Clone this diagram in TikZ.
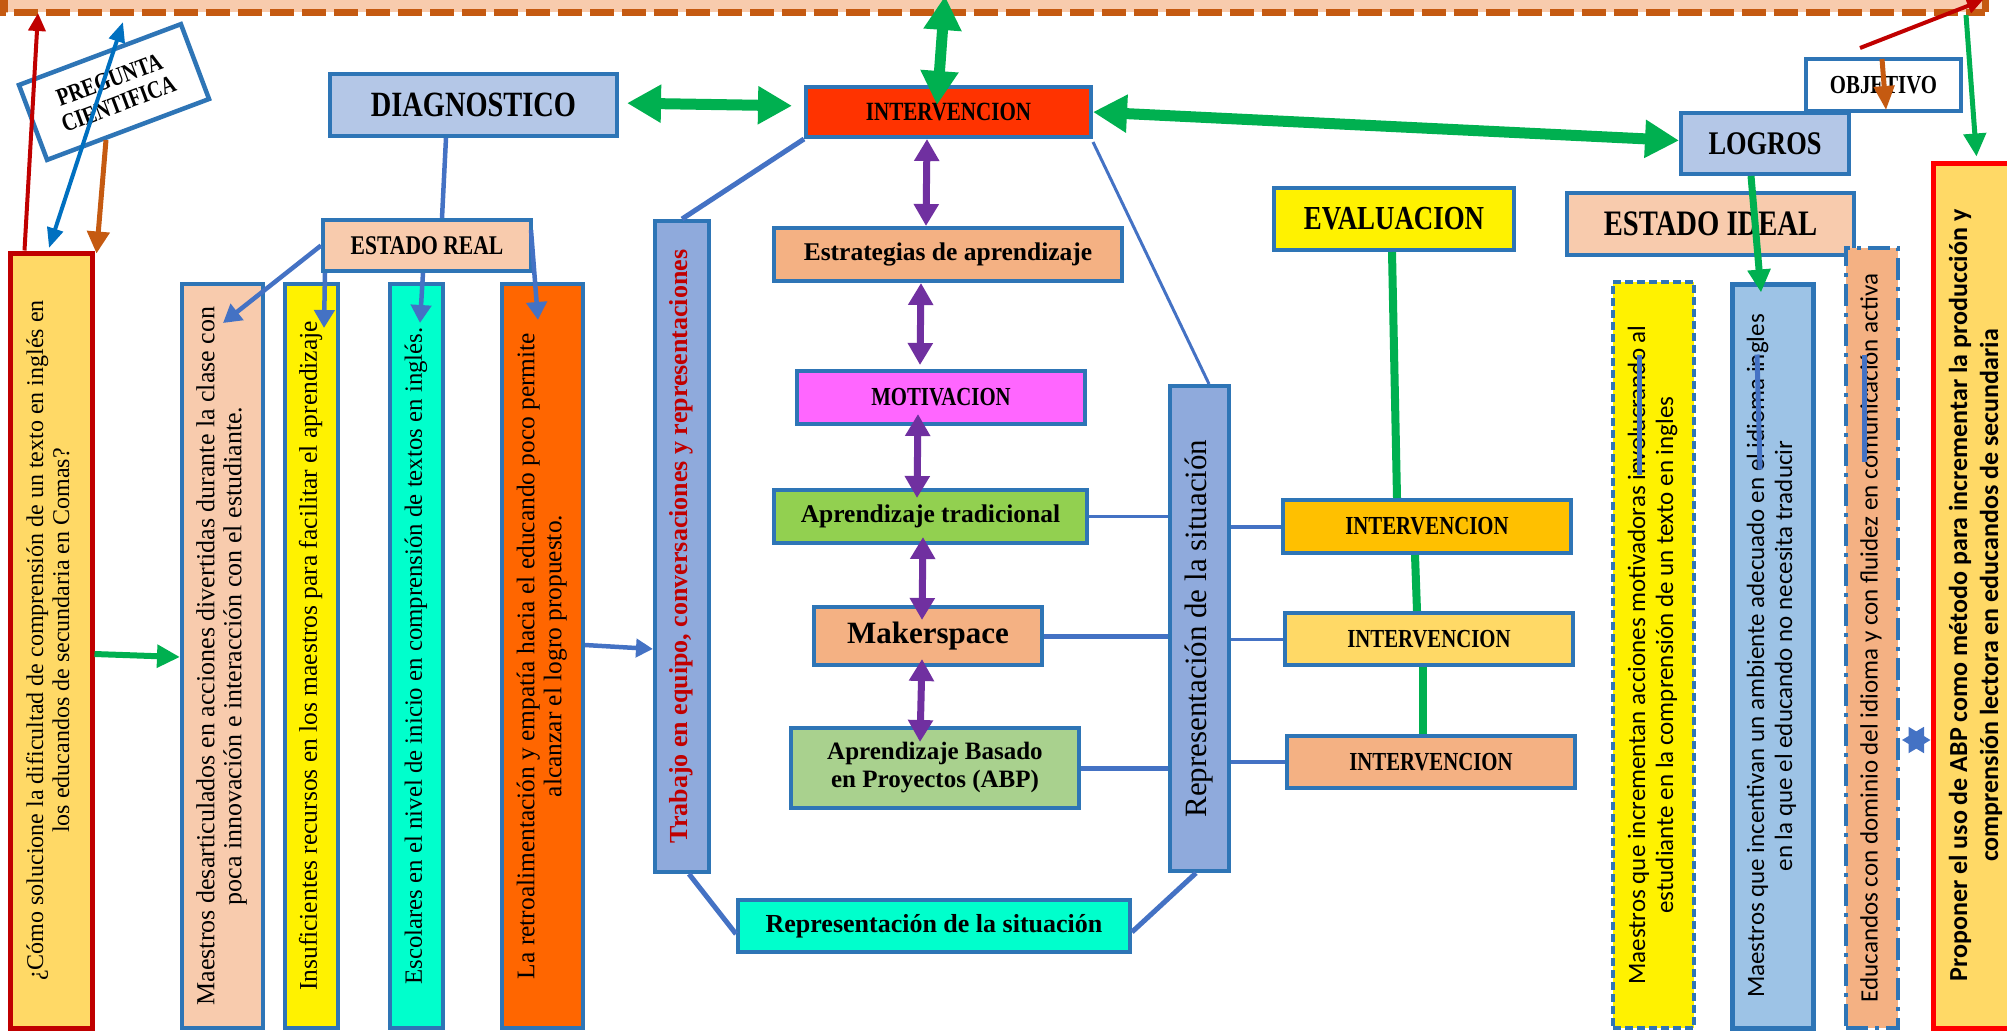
\documentclass[tikz,border=0pt]{standalone}
\usepackage{fontspec}
\usepackage{graphicx}
\setmainfont{Liberation Serif}
\newfontfamily\condB[FakeStretch=0.8]{Liberation Serif}
\newfontfamily\calib{Carlito}
\usetikzlibrary{arrows.meta,calc}
\definecolor{bord}{HTML}{2E75B6}
\definecolor{lnblue}{HTML}{4472C4}
\definecolor{grn}{HTML}{00B050}
\definecolor{purp}{HTML}{7030A0}
\definecolor{peach}{HTML}{F8CBAD}
\definecolor{dkorange}{HTML}{C55A11}
\definecolor{dkred}{HTML}{C00000}
\definecolor{gold}{HTML}{FFD966}
\definecolor{lblue}{HTML}{B4C7E7}
\definecolor{mblue}{HTML}{8FAADC}
\definecolor{sky}{HTML}{9DC3E6}
\definecolor{salmon}{HTML}{F4B183}
\definecolor{aqua}{HTML}{00FFCC}
\definecolor{redor}{HTML}{FF3300}
\definecolor{magen}{HTML}{FF66FF}
\definecolor{lgreen}{HTML}{92D050}
\definecolor{pgreen}{HTML}{A9D18E}
\definecolor{amber}{HTML}{FFC000}
\definecolor{orng}{HTML}{FF6600}
\definecolor{oblue}{HTML}{0070C0}
\newcommand{\fsz}[2]{\fontsize{#1}{#2}\selectfont}
\newcommand{\vt}[1]{\rotatebox{90}{\begin{tabular}{@{}c@{}}#1\end{tabular}}}
\begin{document}
\begin{tikzpicture}[x=1pt,y=-1pt,
  bx/.style={draw=bord, line width=4pt, inner sep=0pt, align=center, text=black},
  capl/.style={font=\condB\bfseries\fsz{#1}{#1}},
  bl/.style={font=\bfseries\fsz{#1}{#1}},
  vleft/.style={font=\fsz{#1}{27}},
  vright/.style={font=\calib\fsz{25}{28}},
  gbig/.style={draw=grn, line width=11pt, {Triangle[length=34pt,width=36pt]}-{Triangle[length=34pt,width=36pt]}},
  gsmall/.style={draw=grn, line width=#1, -{Triangle[length=23pt,width=22pt]}},
  gline/.style={draw=grn, line width=8pt},
  parr/.style={draw=purp, line width=7pt, {Triangle[length=22pt,width=24pt]}-{Triangle[length=22pt,width=24pt]}},
  bline/.style={draw=lnblue, line width=#1},
  barr/.style={draw=lnblue, line width=4.5pt, -{Triangle[length=18pt,width=20pt]}},
]
\useasboundingbox (0,0) rectangle (2007,1031);
\clip (0,0) rectangle (2007,1031);

% top band
\fill[peach] (4,-10) rectangle (1985,12);
\draw[dkorange, line width=7pt, dash pattern=on 24pt off 8pt] (4,-10) -- (4,12) -- (1985,12);
\draw[dkorange, line width=7pt] (1985,12) -- (1985,-10);

% left column
\node[bx, draw=dkred, line width=5pt, fill=gold, minimum width=82pt, minimum height=775pt, font=\fsz{24}{26}] (cmo) at (51,640.5)
  {\vt{¿Cómo solucione la dificultad de comprensión de un texto en inglés en\\los educandos de secundaria en Comas?}};
\node[bx, line width=4.5pt, fill=white, minimum width=173pt, minimum height=80pt, rotate=20.6, font=\condB\bfseries\fsz{25}{26}] (preg) at (114,92)
  {PREGUNTA\\CIENTIFICA};

\node[bx, fill=lblue, minimum width=287pt, minimum height=62pt, capl=35.5] (diag) at (473.5,105) {DIAGNOSTICO};
\node[bx, fill=peach, minimum width=208pt, minimum height=51pt, capl=27] (estreal) at (427,245.5) {ESTADO REAL};

\node[bx, fill=peach, minimum width=81pt, minimum height=744pt, vleft=26] (mdes) at (222.5,656)
  {\vt{Maestros desarticulados en acciones divertidas durante la clase con\\poca innovación e interacción con el estudiante.}};
\node[bx, fill=yellow, minimum width=53pt, minimum height=744pt, vleft=25.5] (insuf) at (311.5,656)
  {\vt{Insuficientes recursos en los maestros para facilitar el aprendizaje}};
\node[bx, fill=aqua, minimum width=53pt, minimum height=744pt, vleft=24.8] (escol) at (416.5,656)
  {\vt{Escolares en el nivel de inicio en comprensión de textos en inglés.}};
\node[bx, fill=orng, minimum width=81pt, minimum height=744pt, vleft=25.4] (retro) at (542.5,656)
  {\vt{La retroalimentación y empatía hacia el educando poco permite\\alcanzar el logro propuesto.}};

% middle
\node[bx, fill=mblue, minimum width=54pt, minimum height=651pt, text=dkred, font=\bfseries\fsz{26}{28}] (trabajo) at (682,546.5)
  {\vt{Trabajo en equipo, conversaciones y representaciones}};
\node[bx, fill=redor, minimum width=285pt, minimum height=50pt, capl=26.3] (intervtop) at (948.5,112) {INTERVENCION};
\node[bx, fill=salmon, minimum width=348pt, minimum height=53pt, bl=25.5] (estr) at (948,254.5) {Estrategias de aprendizaje};
\node[bx, fill=magen, minimum width=288pt, minimum height=53pt, capl=26] (motiv) at (941,397.5) {MOTIVACION};
\node[bx, fill=lgreen, minimum width=313pt, minimum height=53pt, bl=25.5] (aprtrad) at (930.5,516.5) {Aprendizaje tradicional};
\node[bx, fill=salmon, minimum width=228pt, minimum height=58pt, bl=31] (maker) at (928,636) {Makerspace};
\node[bx, fill=pgreen, minimum width=288pt, minimum height=80pt, font=\bfseries\fsz{25}{28}] (abp) at (935,768) {Aprendizaje Basado\\en Proyectos (ABP)};
\node[bx, fill=aqua, minimum width=392pt, minimum height=52pt, bl=26] (repH) at (934,926) {Representación de la situación};
\node[bx, fill=mblue, minimum width=59pt, minimum height=485pt, font=\fsz{31}{34}] (repV) at (1199.5,628.5)
  {\vt{Representación de la situación}};

% evaluation
\node[bx, fill=yellow, minimum width=240pt, minimum height=62pt, capl=33.6] (eval) at (1394,219) {EVALUACION};
\node[bx, fill=amber, minimum width=288pt, minimum height=53pt, capl=26] (int1) at (1427,526.5) {INTERVENCION};
\node[bx, fill=gold, minimum width=288pt, minimum height=52pt, capl=26] (int2) at (1429,639) {INTERVENCION};
\node[bx, fill=salmon, minimum width=288pt, minimum height=52pt, capl=26] (int3) at (1431,762) {INTERVENCION};

% right side
\node[bx, fill=lblue, minimum width=168pt, minimum height=61pt, capl=33] (logros) at (1765,143.5) {LOGROS};
\node[bx, fill=white, minimum width=155pt, minimum height=52pt, capl=26] (objetivo) at (1883.5,85) {OBJETIVO};
\node[bx, fill=peach, minimum width=287pt, minimum height=62pt, capl=35.8] (estideal) at (1710.5,224) {ESTADO IDEAL};
\node[bx, fill=yellow, dash pattern=on 8pt off 4pt, minimum width=81pt, minimum height=746pt, vright] (myellow) at (1653.5,655)
  {\vt{Maestros que incrementan acciones motivadoras involucrando al\\estudiante en la comprensión de un texto en ingles}};
\node[bx, line width=5pt, fill=sky, minimum width=81pt, minimum height=744pt, vright] (mbl) at (1772.5,656)
  {\vt{Maestros que incentivan un ambiente adecuado en el idioma ingles\\en la que el educando no necesita traducir}};
\node[bx, fill=salmon, dash pattern=on 22pt off 7pt on 4pt off 7pt, minimum width=52pt, minimum height=780pt, vright] (educ) at (1872,638)
  {\vt{Educandos con dominio del idioma y con fluidez en comunicación activa}};
\node[bx, draw=red, line width=5pt, fill=gold, minimum width=87pt, minimum height=865pt, font=\calib\bfseries\fsz{26}{31}] (prop) at (1976.5,595.5)
  {\vt{Proponer el uso de ABP como método para incrementar la producción y\\comprensión lectora en educandos de secundaria}};

% free ends
\coordinate (redtip) at (38,13);
\coordinate (bluetip) at (123,22);
\coordinate (bluebot) at (49,248);
\coordinate (orgst) at (106,140);
\coordinate (gtop) at (945,-4);
\coordinate (gtr) at (1966,15);
\coordinate (redA) at (1860,48);
\coordinate (redB) at (1983,0);

% connectors top-left
\draw[draw=dkred, line width=4pt, -{Triangle[length=18pt,width=17pt]}] ([xshift=17pt]cmo.north west) -- (redtip);
\draw[draw=oblue, line width=4pt, {Triangle[length=20pt,width=16pt]}-{Triangle[length=20pt,width=16pt]}] (bluebot) -- (bluetip);
\draw[draw=dkorange, line width=5pt, -{Triangle[length=22pt,width=22pt]}] (orgst) -- ([xshift=2pt,yshift=-3pt]cmo.north east);
\draw[gsmall=6pt] ([yshift=-13.5pt]cmo.east) -- ([yshift=-1pt]mdes.west);

% diagnostico / estado real
\draw[bline=4.5pt] ([xshift=-27.5pt]diag.south) -- ([xshift=15pt]estreal.north);
\draw[barr] (estreal.west) -- ([xshift=0.5pt,yshift=-41pt]mdes.north);
\draw[barr] ([xshift=4pt]estreal.south west) -- ([xshift=12.5pt,yshift=-46pt]insuf.north);
\draw[barr] ([xshift=-4pt]estreal.south) -- ([xshift=3.5pt,yshift=-41pt]escol.north);
\draw[barr] ([xshift=-2pt,yshift=-12pt]estreal.north east) -- ([xshift=-4.5pt,yshift=-38pt]retro.north);
\draw[barr, -{Triangle[length=17pt,width=18pt]}] ([yshift=11pt]retro.east) -- ([yshift=-102.5pt]trabajo.west);

% green big arrows
\draw[gbig, shorten <=8pt, shorten >=12pt] ([yshift=2pt]diag.east) -- ([yshift=6pt]intervtop.west);
\draw[gbig] (gtop) -- ([xshift=-11.5pt,yshift=7pt]intervtop.center);
\draw[gbig] (intervtop.east) -- ([yshift=3pt]logros.west);

% middle frame lines
\draw[bline=5pt] (intervtop.south west) -- (trabajo.north);
\draw[bline=3pt] ([yshift=-3pt]intervtop.south east) -- ([xshift=9.5pt]repV.north);
\draw[bline=5pt] ([xshift=7pt]trabajo.south) -- ([yshift=-8pt]repH.west);
\draw[bline=5pt] ([yshift=-6pt]repH.east) -- ([xshift=-3.5pt]repV.south);
\draw[bline=3pt] (aprtrad.east) -- (aprtrad.east -| repV.west);
\draw[bline=5pt] (maker.east) -- (maker.east -| repV.west);
\draw[bline=5pt] (abp.east) -- (abp.east -| repV.west);
\draw[bline=4pt] (repV.east |- int1.west) -- (int1.west);
\draw[bline=3pt] (repV.east |- int2.west) -- (int2.west);
\draw[bline=4pt] (repV.east |- int3.west) -- (int3.west);

% purple chain
\draw[parr] ([xshift=-21.5pt]intervtop.south) -- ([xshift=-22pt]estr.north);
\draw[parr] ([xshift=-27pt]estr.south) -- ([xshift=-21pt,yshift=4pt]motiv.north);
\draw[parr] ([xshift=-23pt,yshift=12pt]motiv.south) -- ([xshift=-13.5pt,yshift=-10pt]aprtrad.north);
\draw[parr] ([xshift=-7.5pt,yshift=8pt]aprtrad.south) -- ([xshift=-6pt,yshift=-15pt]maker.north);
\draw[parr] ([xshift=-6pt,yshift=8pt]maker.south) -- ([xshift=-15pt,yshift=-16pt]abp.north);

% evaluation chain
\draw[gline] ([xshift=-2pt]eval.south) -- ([xshift=-30pt]int1.north);
\draw[gline] ([xshift=-12pt]int1.south) -- ([xshift=-12pt]int2.north);
\draw[gline] ([xshift=-6pt]int2.south) -- ([xshift=-8pt]int3.north);

% right side connectors
\draw[gsmall=7pt] ([xshift=-14pt]logros.south) -- ([xshift=-11.5pt,yshift=-11pt]mbl.north);
\draw[gsmall=5pt] (gtr) -- ([yshift=4pt]prop.north);
\draw[draw=dkred, line width=4pt, -{Triangle[length=16pt,width=15pt]}] (redA) -- (redB);
\draw[draw=dkorange, line width=5pt, -{Triangle[length=24pt,width=20pt]}] ([xshift=-1.5pt,yshift=-2pt]objetivo.north) -- ([xshift=2.5pt,yshift=3pt]objetivo.south);
\draw[draw=lnblue, line width=2pt, {Triangle[length=22pt,width=26pt]}-{Triangle[length=22pt,width=26pt]}] ([xshift=2pt,yshift=-102pt]educ.east) -- (prop.west |- 0,740);
\draw[bline=5pt] ([xshift=-14.5pt,yshift=-75pt]myellow.north) -- ([xshift=-14.5pt,yshift=-195pt]myellow.north);
\draw[bline=5pt] ([xshift=-15.5pt,yshift=-73pt]mbl.north) -- ([xshift=-12.5pt,yshift=-188pt]mbl.north);
\draw[bline=5pt] ([xshift=-8pt,yshift=-109pt]educ.north) -- ([xshift=-8pt,yshift=-216pt]educ.north);
\end{tikzpicture}
\end{document}
